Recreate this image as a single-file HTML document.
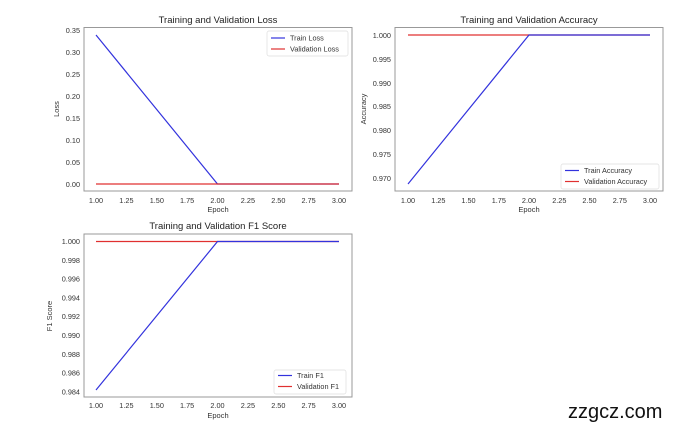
<!DOCTYPE html>
<html><head><style>
body{margin:0;background:#fff;}
svg{display:block;font-family:"Liberation Sans","DejaVu Sans",sans-serif;}
.t{font-size:7.3px;fill:#333;}
.ti{font-size:9.5px;fill:#222;}
.ax{font-size:7.5px;fill:#333;}
</style></head><body>
<svg width="692" height="425" viewBox="0 0 692 425">
<!-- Plot 1 -->
<text class="ti" x="218" y="23" text-anchor="middle">Training and Validation Loss</text>
<rect x="84" y="27.5" width="268" height="163.5" fill="none" stroke="#999" stroke-width="1"/>
<g class="t" text-anchor="end">
<text x="80" y="33">0.35</text><text x="80" y="55">0.30</text><text x="80" y="77">0.25</text><text x="80" y="99">0.20</text><text x="80" y="121">0.15</text><text x="80" y="143">0.10</text><text x="80" y="165">0.05</text><text x="80" y="187">0.00</text>
</g>
<g class="t" text-anchor="middle">
<text x="96" y="203">1.00</text><text x="126.4" y="203">1.25</text><text x="156.8" y="203">1.50</text><text x="187.1" y="203">1.75</text><text x="217.5" y="203">2.00</text><text x="247.9" y="203">2.25</text><text x="278.3" y="203">2.50</text><text x="308.6" y="203">2.75</text><text x="339" y="203">3.00</text>
</g>
<text class="ax" x="218" y="212" text-anchor="middle">Epoch</text>
<text class="ax" transform="translate(59,109) rotate(-90)" text-anchor="middle">Loss</text>
<polyline points="96,35 217.5,184 339,184" fill="none" stroke="#3333dd" stroke-width="1.2"/>
<line x1="96" y1="184" x2="339" y2="184" stroke="#e03030" stroke-width="1.3"/>
<rect x="267" y="31" width="81" height="25" fill="#fff" stroke="#ddd" stroke-width="0.7" rx="2"/>
<line x1="271" y1="38" x2="285" y2="38" stroke="#3333dd" stroke-width="1.2"/>
<line x1="271" y1="49" x2="285" y2="49" stroke="#e03030" stroke-width="1.2"/>
<text class="t" x="290" y="40.5">Train Loss</text><text class="t" x="290" y="51.5">Validation Loss</text>

<!-- Plot 2 -->
<text class="ti" x="529" y="23" text-anchor="middle">Training and Validation Accuracy</text>
<rect x="395" y="27.5" width="268" height="163.5" fill="none" stroke="#999" stroke-width="1"/>
<g class="t" text-anchor="end">
<text x="391" y="38">1.000</text><text x="391" y="62">0.995</text><text x="391" y="86">0.990</text><text x="391" y="109">0.985</text><text x="391" y="133">0.980</text><text x="391" y="157">0.975</text><text x="391" y="181">0.970</text>
</g>
<g class="t" text-anchor="middle">
<text x="408" y="203">1.00</text><text x="438.3" y="203">1.25</text><text x="468.5" y="203">1.50</text><text x="498.8" y="203">1.75</text><text x="529" y="203">2.00</text><text x="559.3" y="203">2.25</text><text x="589.5" y="203">2.50</text><text x="619.8" y="203">2.75</text><text x="650" y="203">3.00</text>
</g>
<text class="ax" x="529" y="212" text-anchor="middle">Epoch</text>
<text class="ax" transform="translate(366,109) rotate(-90)" text-anchor="middle">Accuracy</text>
<line x1="408" y1="35" x2="650" y2="35" stroke="#e03030" stroke-width="1.3"/>
<polyline points="408,184 529,35 650,35" fill="none" stroke="#3333dd" stroke-width="1.2"/>
<rect x="561" y="164" width="98" height="25" fill="#fff" stroke="#ddd" stroke-width="0.7" rx="2"/>
<line x1="565" y1="170.5" x2="579" y2="170.5" stroke="#3333dd" stroke-width="1.2"/>
<line x1="565" y1="181.5" x2="579" y2="181.5" stroke="#e03030" stroke-width="1.2"/>
<text class="t" x="584" y="173">Train Accuracy</text><text class="t" x="584" y="184">Validation Accuracy</text>

<!-- Plot 3 -->
<text class="ti" x="218" y="229" text-anchor="middle">Training and Validation F1 Score</text>
<rect x="84" y="234" width="268" height="163" fill="none" stroke="#999" stroke-width="1"/>
<g class="t" text-anchor="end">
<text x="80" y="244">1.000</text><text x="80" y="263">0.998</text><text x="80" y="281.5">0.996</text><text x="80" y="300.5">0.994</text><text x="80" y="319">0.992</text><text x="80" y="338">0.990</text><text x="80" y="357">0.988</text><text x="80" y="375.5">0.986</text><text x="80" y="394.5">0.984</text>
</g>
<g class="t" text-anchor="middle">
<text x="96" y="408">1.00</text><text x="126.4" y="408">1.25</text><text x="156.8" y="408">1.50</text><text x="187.1" y="408">1.75</text><text x="217.5" y="408">2.00</text><text x="247.9" y="408">2.25</text><text x="278.3" y="408">2.50</text><text x="308.6" y="408">2.75</text><text x="339" y="408">3.00</text>
</g>
<text class="ax" x="218" y="418" text-anchor="middle">Epoch</text>
<text class="ax" transform="translate(52,316) rotate(-90)" text-anchor="middle">F1 Score</text>
<line x1="96" y1="241.5" x2="339" y2="241.5" stroke="#e03030" stroke-width="1.3"/>
<polyline points="96,390 217.5,241.5 339,241.5" fill="none" stroke="#3333dd" stroke-width="1.2"/>
<rect x="274" y="370" width="72" height="24" fill="#fff" stroke="#ddd" stroke-width="0.7" rx="2"/>
<line x1="278" y1="375.5" x2="292" y2="375.5" stroke="#3333dd" stroke-width="1.2"/>
<line x1="278" y1="386.5" x2="292" y2="386.5" stroke="#e03030" stroke-width="1.2"/>
<text class="t" x="297" y="378">Train F1</text><text class="t" x="297" y="389">Validation F1</text>

<text x="568" y="418" style="font-size:20px;fill:#111">zzgcz.com</text>
</svg>
</body></html>
